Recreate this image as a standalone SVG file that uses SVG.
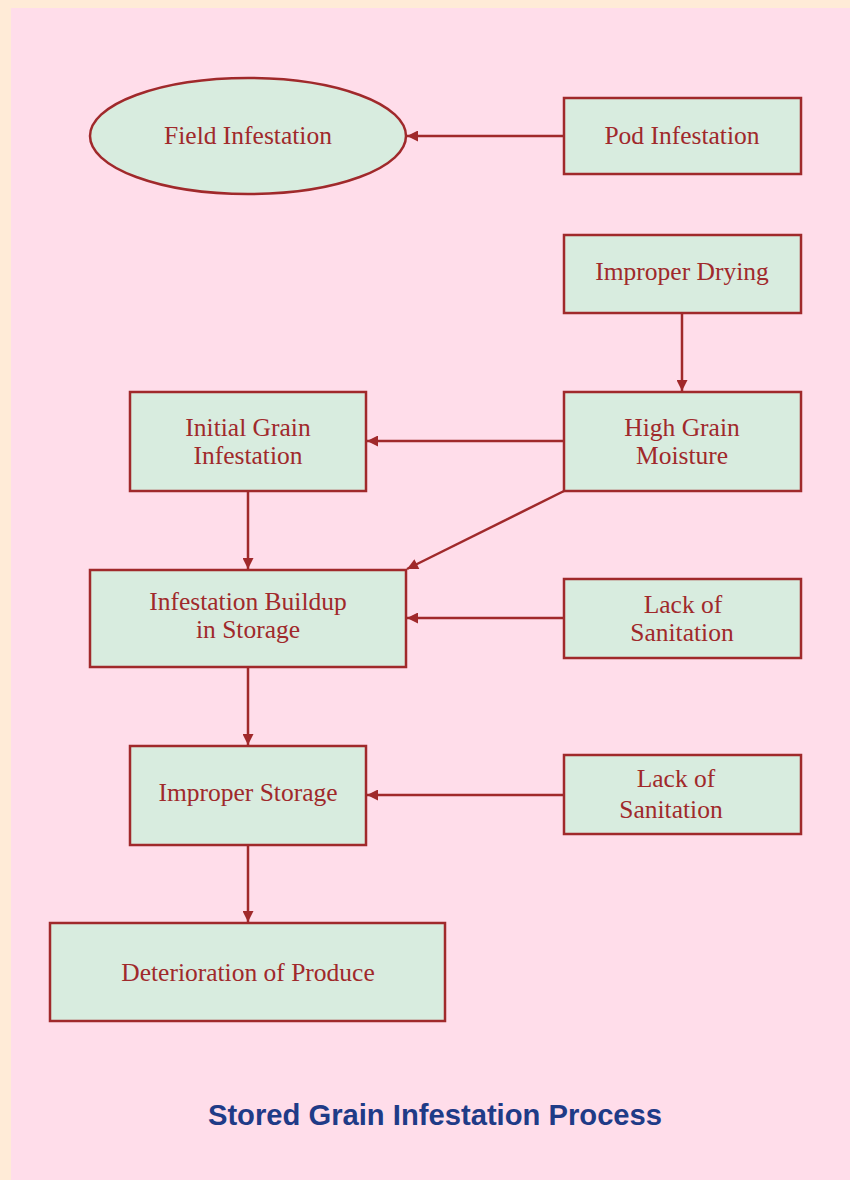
<svg xmlns="http://www.w3.org/2000/svg" width="850" height="1180" viewBox="0 0 850 1180">
  <style>
    .node { fill: #D8ECDF; stroke: #A0292B; stroke-width: 2.5; }
    .lbl { font-family: "Liberation Serif", "Times New Roman", serif; font-size: 25.5px; fill: #A0292B; text-anchor: middle; }
    .edge { stroke: #A0292B; stroke-width: 2.5; fill: none; marker-end: url(#arrow); }
    .title { font-family: "Liberation Sans", Arial, sans-serif; font-size: 29.2px; font-weight: bold; fill: #1F3B87; text-anchor: middle; }
  </style>
  <defs>
    <marker id="arrow" viewBox="0 0 10 10" refX="10" refY="5" markerWidth="5" markerHeight="4.4" markerUnits="strokeWidth" orient="auto">
      <path d="M0,0 L10,5 L0,10 z" fill="#A0292B"/>
    </marker>
  </defs>

  <!-- page background with cream margin -->
  <rect x="0" y="0" width="850" height="1180" fill="#FFEBD7"/>
  <rect x="11" y="8" width="839" height="1172" fill="#FFDDEA"/>

  <g id="connectors">
    <line class="edge" x1="564" y1="136" x2="407" y2="136"/>
    <line class="edge" x1="682" y1="313" x2="682" y2="391"/>
    <line class="edge" x1="564" y1="441" x2="367" y2="441"/>
    <line class="edge" x1="564" y1="491" x2="407" y2="569"/>
    <line class="edge" x1="248" y1="491" x2="248" y2="569"/>
    <line class="edge" x1="564" y1="618" x2="407" y2="618"/>
    <line class="edge" x1="248" y1="667" x2="248" y2="745"/>
    <line class="edge" x1="564" y1="795" x2="367" y2="795"/>
    <line class="edge" x1="248" y1="845" x2="248" y2="922"/>
  </g>

  <g id="field-infestation">
    <ellipse class="node" cx="248" cy="136" rx="158" ry="58"/>
    <text class="lbl" x="248" y="144">Field Infestation</text>
  </g>

  <g id="pod-infestation">
    <rect class="node" x="564" y="98" width="237" height="76"/>
    <text class="lbl" x="682" y="144">Pod Infestation</text>
  </g>

  <g id="improper-drying">
    <rect class="node" x="564" y="235" width="237" height="78"/>
    <text class="lbl" x="682" y="280">Improper Drying</text>
  </g>

  <g id="high-grain-moisture">
    <rect class="node" x="564" y="392" width="237" height="99"/>
    <text class="lbl" x="682" y="436">High Grain</text>
    <text class="lbl" x="682" y="464">Moisture</text>
  </g>

  <g id="initial-grain-infestation">
    <rect class="node" x="130" y="392" width="236" height="99"/>
    <text class="lbl" x="248" y="436">Initial Grain</text>
    <text class="lbl" x="248" y="464">Infestation</text>
  </g>

  <g id="infestation-buildup">
    <rect class="node" x="90" y="570" width="316" height="97"/>
    <text class="lbl" x="248" y="610">Infestation Buildup</text>
    <text class="lbl" x="248" y="638">in Storage</text>
  </g>

  <g id="lack-of-sanitation-1">
    <rect class="node" x="564" y="579" width="237" height="79"/>
    <text class="lbl" x="683" y="613">Lack of</text>
    <text class="lbl" x="682" y="641">Sanitation</text>
  </g>

  <g id="improper-storage">
    <rect class="node" x="130" y="746" width="236" height="99"/>
    <text class="lbl" x="248" y="801">Improper Storage</text>
  </g>

  <g id="lack-of-sanitation-2">
    <rect class="node" x="564" y="755" width="237" height="79"/>
    <text class="lbl" x="676" y="787">Lack of</text>
    <text class="lbl" x="671" y="818">Sanitation</text>
  </g>

  <g id="deterioration-of-produce">
    <rect class="node" x="50" y="923" width="395" height="98"/>
    <text class="lbl" x="248" y="981">Deterioration of Produce</text>
  </g>

  <text class="title" x="435" y="1125">Stored Grain Infestation Process</text>
</svg>
